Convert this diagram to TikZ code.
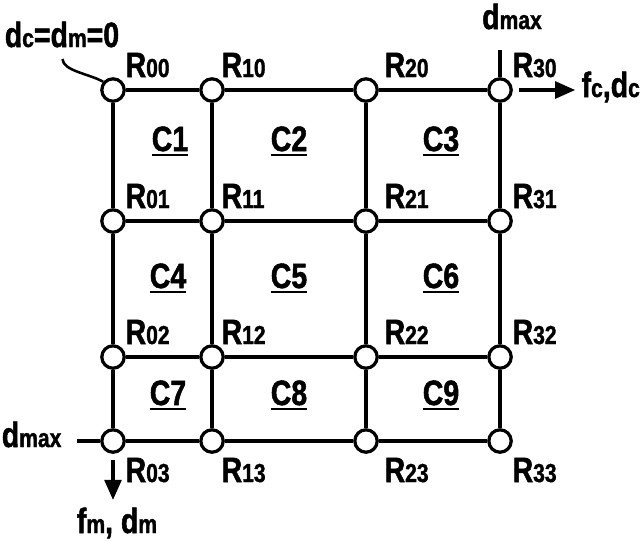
\documentclass[tikz,border=0pt]{standalone}
\usepackage{fontspec}
\setmainfont{Liberation Sans}[FakeStretch=0.81,BoldFeatures={FakeBold=1.4}]
\usetikzlibrary{arrows.meta,calc}

\newcommand\petit[1]{{\fontsize{18.5}{18.5}\selectfont #1}}
\newcommand\souligne[1]{\setbox0\hbox{#1}\rlap{\rule[-3.8pt]{\wd0}{1.8pt}}\box0}

\begin{document}
\begin{tikzpicture}[x=0.025cm,y=-0.025cm,line width=2.3pt,
    noeud/.style={circle,draw,fill=white,inner sep=0pt,minimum size=0.56cm},
    texte/.style={inner sep=0pt,font=\bfseries\fontsize{25}{25}\selectfont},
    fleche/.style={-{Triangle[length=0.5cm,width=0.42cm]}}]
  \useasboundingbox (0,0) rectangle (644,541);
  % les noeuds de la grille
  \foreach \i/\x in {0/113,1/212,2/366,3/500}
    \foreach \j/\y in {0/90,1/221,2/357,3/441}
      \node[noeud] (R\i\j) at (\x,\y) {};
  % les traits
  \foreach \k in {0,...,3} {
    \draw (R\k0) -- (R\k1) -- (R\k2) -- (R\k3);
    \draw (R0\k) -- (R1\k) -- (R2\k) -- (R3\k);
  }
  % les étiquettes des noeuds
  \foreach \i/\dx in {0/11,1/8,2/17,3/11}
    \foreach \j/\dy in {0/-13,1/-13,2/-13,3/41}
      \node[texte,anchor=base west] (E\i\j) at ($(R\i\j)+(\dx,\dy)$) {R\petit{\i\j}};
  % les cellules
  \foreach \n/\x/\y in {1/170/151,2/289/151,3/441/151,4/168/288,5/289/288,
      6/441/288,7/168/405,8/289/405,9/441/405}
    \node[texte,anchor=base] (C\n) at (\x,\y) {\souligne{C\n}};
  % les textes autour
  \node[texte,anchor=base] (dcdm) at (62,47) {d\petit{c}=d\petit{m}=0};
  \draw[line width=1.8pt,shorten <=0.25cm] (dcdm.south)
    .. controls +(1,22) and +(-14,-8) .. (R00.140);
  \node[texte,anchor=base] (dmaxh) at (512,29) {d\petit{max}};
  \coordinate (haut) at (500,50);
  \draw (haut) -- (R30);
  \node[texte,anchor=base west] (fcdc) at (580,97) {f\petit{c},d\petit{c}};
  \draw[fleche,shorten <=0.15cm,shorten >=0.12cm] (R30) -- (fcdc.west |- R30);
  \node[texte,anchor=base east] (dmaxg) at (63,447) {d\petit{max}};
  \coordinate (gauche) at (77,441);
  \draw (gauche) -- (R03);
  \node[texte,anchor=base] (fmdm) at (117,533) {f\petit{m}, d\petit{m}};
  \draw[fleche,shorten <=0.15cm,shorten >=0.15cm] (R03) -- (fmdm.north -| R03);
\end{tikzpicture}
\end{document}
